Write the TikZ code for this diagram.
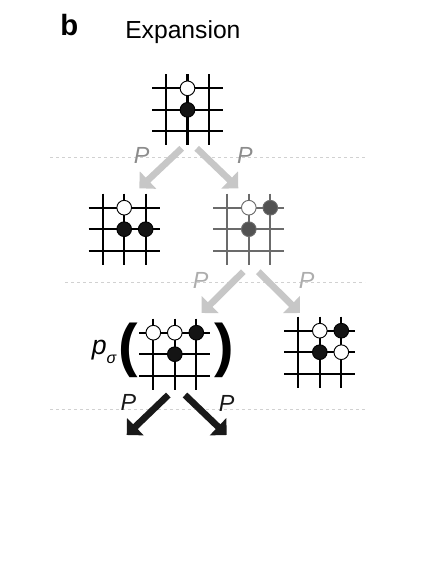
\documentclass[tikz,border=0pt]{standalone}
\usepackage{fontspec}
\setmainfont{Liberation Sans}
\usetikzlibrary{arrows.meta}

\tikzset{
  board/.pic={
    \foreach \i in {0,1,2}{
      \draw[line width=1.6pt] (-14,\i*21.5) -- (57,\i*21.5);
      \draw[line width=1.6pt] (\i*21.5,-14) -- (\i*21.5,57);
    }
  },
  wst/.style={circle, draw, line width=0.7pt, fill=white, minimum size=11pt, inner sep=0pt},
  bst/.style={circle, draw, line width=0.7pt, fill=black!92, minimum size=11pt, inner sep=0pt},
  move/.style={line width=5pt, -{Triangle[width=17.5pt,length=9pt]}},
  sep/.style={black!18, line width=0.6pt, dash pattern=on 2.5pt off 2pt}
}

\begin{document}
\begin{tikzpicture}[x=0.75pt, y=-0.75pt,
  every node/.style={font=\fontsize{17.5}{17.5}\selectfont\itshape, inner sep=0pt}]
 \useasboundingbox (0,0) rectangle (424,576);

 \node[font=\fontsize{22}{22}\selectfont\bfseries, anchor=base west] (tag) at (60,35) {b};
 \node[font=\fontsize{18.5}{18.5}\selectfont, anchor=base west] (title) at (125,38) {Expansion};

 % separators
 \draw[sep] (50,157.5) -- (365,157.5);
 \draw[sep] (65,282.7) -- (365,282.7);
 \draw[sep] (50,409.3) -- (365,409.3);

 % root position
 \begin{scope}[shift={(166,88.3)}]
  \pic {board};
  \node[wst] (root-w) at (21.5,0) {};
  \node[bst] (root-b) at (21.5,21.5) {};
  \coordinate (root-l) at (15.7,60);
  \coordinate (root-r) at (30.7,60);
 \end{scope}

 % first children
 \begin{scope}[shift={(102.7,207.7)}]
  \pic {board};
  \node[wst] (left-w) at (21.5,0) {};
  \node[bst] (left-b1) at (21.5,21.5) {};
  \node[bst] (left-b2) at (43,21.5) {};
  \coordinate (left-in) at (36.6,-19.4);
 \end{scope}
 \begin{scope}[shift={(227.3,207.7)}, black!58]
  \pic {board};
  \node[wst] (mid-w) at (21.5,0) {};
  \node[bst, fill=black!68] (mid-b1) at (43,0) {};
  \node[bst, fill=black!68] (mid-b2) at (21.5,21.5) {};
  \coordinate (mid-in) at (11,-19.4);
 \end{scope}
 \begin{scope}[shift={(227.3,207.7)}]
  \coordinate (mid-l) at (16,64);
  \coordinate (mid-r) at (31,64);
 \end{scope}

 % second children
 \begin{scope}[shift={(153.3,332.7)}]
  \pic {board};
  \node[wst] (eval-w1) at (0,0) {};
  \node[wst] (eval-w2) at (21.5,0) {};
  \node[bst] (eval-b1) at (43,0) {};
  \node[bst] (eval-b2) at (21.5,21.5) {};
  \coordinate (eval-in) at (48.4,-19.7);
  \coordinate (eval-l) at (15,62.3);
  \coordinate (eval-r) at (31.7,62.3);
 \end{scope}
 \begin{scope}[shift={(298.3,330.7)}]
  \pic {board};
  \node[wst] (side-w1) at (21.5,0) {};
  \node[bst] (side-b1) at (43,0) {};
  \node[bst] (side-b2) at (21.5,21.5) {};
  \node[wst] (side-w2) at (43,21.5) {};
  \coordinate (side-in) at (1.7,-17.7);
 \end{scope}

 \node[font=\fontsize{20}{20}\selectfont\itshape] (psig) at (104,352) {p\raisebox{-7pt}{\fontsize{12}{12}\selectfont σ}};
 \node[font=\fontsize{44}{44}\selectfont\bfseries] (lpar) at (128.5,350.5) {(};
 \node[font=\fontsize{44}{44}\selectfont\bfseries] (rpar) at (224,350.5) {)};

 \coordinate (leaf-l) at (126.7,435);
 \coordinate (leaf-r) at (226.7,435);

 % moves
 \draw[move, black!22] (root-l) -- (left-in);
 \draw[move, black!22] (root-r) -- (mid-in);
 \draw[move, black!22] (mid-l) -- (eval-in);
 \draw[move, black!22] (mid-r) -- (side-in);
 \draw[move, black!90] (eval-l) -- (leaf-l);
 \draw[move, black!90] (eval-r) -- (leaf-r);

 \node[black!45] (p1) at (141.7,155) {P};
 \node[black!45] (p2) at (245,155) {P};
 \node[black!32] (p3) at (200.7,280.7) {P};
 \node[black!32] (p4) at (306.7,280.7) {P};
 \node[black!90] (p5) at (128.3,402.7) {P};
 \node[black!90] (p6) at (226.7,403) {P};
\end{tikzpicture}
\end{document}
